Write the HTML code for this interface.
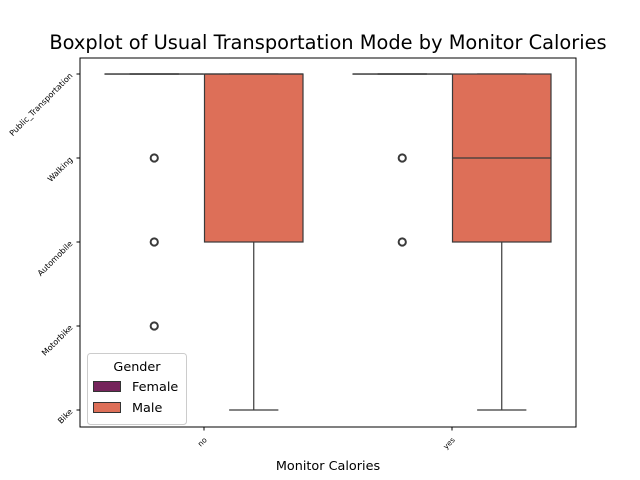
<!DOCTYPE html>
<html><head><meta charset="utf-8"><style>
body{margin:0;background:#fff;}
svg{display:block;font-family:"DejaVu Sans","Liberation Sans",sans-serif;}
</style></head><body>
<svg id="chart" width="640" height="480" viewBox="0 0 640 480">
<text x="328" y="49" font-size="19.4" text-anchor="middle" fill="#000">Boxplot of Usual Transportation Mode by Monitor Calories</text>
<g id="plot"></g>
<rect x="80" y="58" width="496" height="369" fill="none" stroke="#000" stroke-width="1"/>
<text x="328" y="470" font-size="12.8" text-anchor="middle">Monitor Calories</text>
<g>
<rect x="87.5" y="353.5" width="99" height="71" rx="3" fill="#fff" stroke="#ccc"/>
<text x="137" y="371" font-size="12.8" text-anchor="middle">Gender</text>
<rect x="93.5" y="381.5" width="27" height="10" fill="#75245b" stroke="#333"/>
<text x="132" y="391" font-size="12.8">Female</text>
<rect x="93.5" y="402.5" width="27" height="10" fill="#dd6f58" stroke="#333"/>
<text x="132" y="412" font-size="12.8">Male</text>
</g>
</svg>
<script>
const categories = ["no", "yes"];
const yLabels = ["Public_Transportation", "Walking", "Automobile", "Motorbike", "Bike"];
const genders = ["Female", "Male"];
const colors = ["#75245b", "#dd6f58"];
// stats per gender per category: [whiskerLow, q1, median, q3, whiskerHigh] as category index (0=top)
const femaleStats = [[0,0,0,0,0],[0,0,0,0,0]];
const maleStats = [[0,0,0,2,4],[0,0,1,2,4]];
const femaleOutliers = [[1,2,3],[1,2]];
const maleOutliers = [[],[]];

const svg = document.getElementById('chart');
const plot = document.getElementById('plot');
const NS = "http://www.w3.org/2000/svg";
const xL = 80, xR = 576, yT = 58, yB = 427;
function yPos(i){ return 74 + i * 84; }
const band = (xR - xL) / categories.length;
function xCenter(i){ return xL + band * (i + 0.5); }
const boxW = 98.5;
function mk(tag, attrs){ const e = document.createElementNS(NS, tag); for (const k in attrs) e.setAttribute(k, attrs[k]); return e; }

yLabels.forEach((lab, i) => {
  const y = yPos(i);
  const t = mk('line', {x1: xL-3.5, x2: xL, y1: y, y2: y, stroke: '#000'});
  
  
  svg.appendChild(t);
  const tx = mk('text', {x: xL-9, y: y+3, 'font-size': 8, 'text-anchor': 'end', transform: `rotate(-45 ${xL-9} ${y})`});
  tx.textContent = lab;
  
  
  svg.appendChild(tx);
});
categories.forEach((c, i) => {
  const x = xCenter(i);
  const t = mk('line', {x1: x, x2: x, y1: yB, y2: yB+3.5, stroke: '#000'});
  
  
  svg.appendChild(t);
  const tx = mk('text', {x: x+2, y: yB+14, 'font-size': 7.5, 'text-anchor': 'end', transform: `rotate(-45 ${x+2} ${yB+12})`});
  tx.textContent = c;
  
  
  svg.appendChild(tx);
});

function drawBox(stats, outs, ci, gi){
  const cx = xCenter(ci) + (gi === 0 ? -boxW/2 - 0.5 : boxW/2 + 0.5);
  const x0 = cx - boxW/2, x1 = cx + boxW/2;
  const g = mk('g', {});
  
  
  const [wl, q1, med, q3, wh] = stats;
  const yTop = yPos(Math.min(q1, q3)), yBot = yPos(Math.max(q1, q3));
  const capW = boxW / 2;
  [[Math.min(wl,q1), yTop],[Math.max(wh,q3), yBot]].forEach(([w, yb]) => {
    const yw = yPos(w);
    g.appendChild(mk('line', {x1: cx, x2: cx, y1: yb, y2: yw, stroke: '#3a3a3a', 'stroke-width': 1.2}));
    g.appendChild(mk('line', {x1: cx-capW/2, x2: cx+capW/2, y1: yw, y2: yw, stroke: '#3a3a3a', 'stroke-width': 1.2}));
  });
  const r = mk('rect', {x: x0, y: yTop, width: boxW, height: Math.max(yBot - yTop, 0.1), fill: colors[gi], stroke: '#3a3a3a', 'stroke-width': 1.2});
  g.appendChild(r);
  const ym = yPos(med);
  g.appendChild(mk('line', {x1: x0, x2: x1, y1: ym, y2: ym, stroke: '#3a3a3a', 'stroke-width': 1.2}));
  outs.forEach(o => {
    const c = mk('circle', {cx: cx, cy: yPos(o), r: 3.6, fill: 'none', stroke: '#3a3a3a', 'stroke-width': 2});
    
    
    g.appendChild(c);
  });
  plot.appendChild(g);
}
categories.forEach((c, ci) => {
  drawBox(femaleStats[ci], femaleOutliers[ci], ci, 0);
  drawBox(maleStats[ci], maleOutliers[ci], ci, 1);
});
</script>
</body></html>
